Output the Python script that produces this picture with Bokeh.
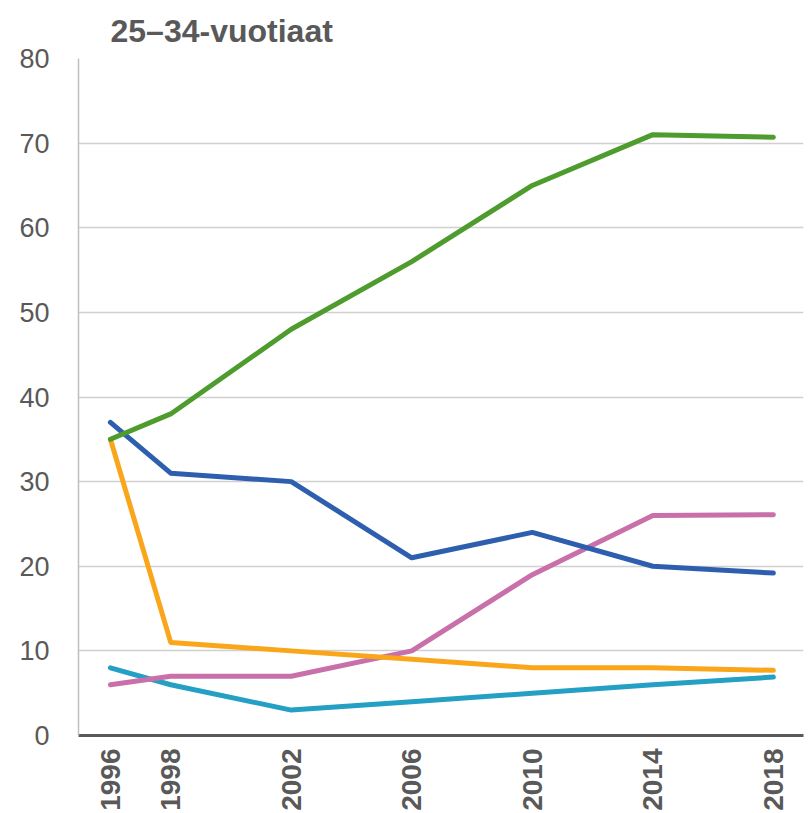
import math
from bokeh.plotting import figure
from bokeh.models import FixedTicker, Range1d
from bokeh.embed import file_html
from bokeh.resources import INLINE

years = [1996, 1998, 2002, 2006, 2010, 2014, 2018]
green = [35, 38, 48, 56, 65, 71, 70.7]
blue = [37, 31, 30, 21, 24, 20, 19.2]
orange = [35, 11, 10, 9, 8, 8, 7.7]
pink = [6, 7, 7, 10, 19, 26, 26.1]
cyan = [8, 6, 3, 4, 5, 6, 6.9]
y_ticks = [0, 10, 20, 30, 40, 50, 60, 70, 80]
title_text = "25–34-vuotiaat"

p = figure(width=809, height=813, output_backend="svg", toolbar_location=None,
           x_range=Range1d(1994.94, 2019.0), y_range=Range1d(0, 80),
           min_border_left=78, min_border_right=6, min_border_top=58, min_border_bottom=78)
p.title.text = title_text
p.title.text_font = "Liberation Sans"
p.title.text_font_size = "32px"
p.title.text_font_style = "bold"
p.title.text_color = "#595959"
p.title.align = "left"
p.title.offset = 32
p.title.standoff = 19

p.outline_line_color = None
p.xgrid.grid_line_color = None
p.ygrid.grid_line_color = "#d0d0d0"
p.ygrid.grid_line_width = 1.5
p.ygrid.ticker = FixedTicker(ticks=y_ticks)

p.yaxis.ticker = FixedTicker(ticks=y_ticks)
p.yaxis.axis_line_color = "#bfbfbf"
p.yaxis.axis_line_width = 1.5
p.yaxis.major_tick_line_color = None
p.yaxis.minor_tick_line_color = None
p.yaxis.major_label_text_font = "Liberation Sans"
p.yaxis.major_label_text_font_size = "27px"
p.yaxis.major_label_text_color = "#595959"
p.yaxis.major_label_standoff = 23

p.xaxis.ticker = FixedTicker(ticks=years)
p.xaxis.axis_line_color = "#595959"
p.xaxis.axis_line_width = 3
p.xaxis.major_tick_line_color = None
p.xaxis.minor_tick_line_color = None
p.xaxis.major_label_orientation = math.pi / 2
p.xaxis.major_label_text_font = "Liberation Sans"
p.xaxis.major_label_text_font_size = "28px"
p.xaxis.major_label_text_font_style = "bold"
p.xaxis.major_label_text_color = "#595959"
p.xaxis.major_label_standoff = 7

series = [
    (cyan, "#23a0c4"),
    (pink, "#c96fa9"),
    (orange, "#f9a61a"),
    (blue, "#2d5fae"),
    (green, "#4e9c2d"),
]
for vals, col in series:
    p.line(years, vals, line_color=col, line_width=5, line_cap="round", line_join="round")

open("out.html", "w").write(file_html(p, INLINE))
